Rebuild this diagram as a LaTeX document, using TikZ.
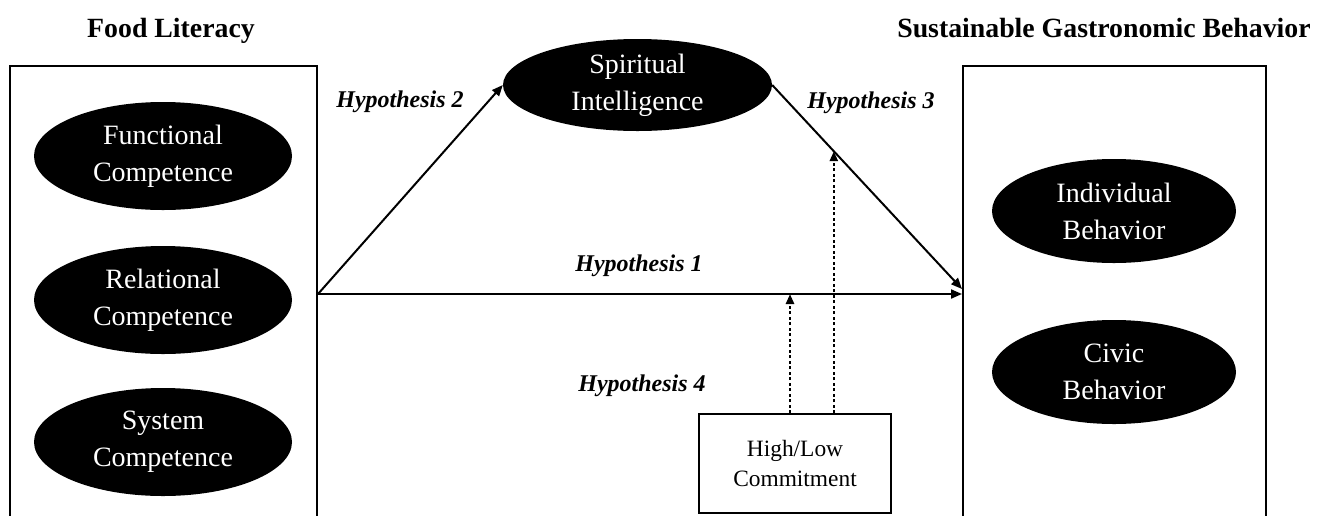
\documentclass[tikz,border=0pt]{standalone}
\usepackage{fontspec}
\setmainfont{Liberation Serif}
\usetikzlibrary{shapes.geometric,arrows.meta,calc}
\tikzset{
  frame/.style={draw,line width=2pt,minimum width=#1,minimum height=456pt,inner sep=0pt},
  blob/.style={ellipse,fill=black,text=white,inner sep=0pt,align=center,
    font=\fontsize{28}{37}\selectfont},
  title/.style={anchor=base,font=\fontsize{27.8}{33}\selectfont\bfseries},
  hyp/.style={font=\fontsize{24}{28}\selectfont\bfseries\itshape},
  link/.style={line width=2pt,-{Triangle[length=11pt,width=9pt]}},
  modlink/.style={line width=2.5pt,dash pattern=on 3pt off 2.5pt,-{Triangle[length=10pt,width=8pt]}},
  modbox/.style={draw,line width=2pt,minimum width=192pt,minimum height=99pt,inner sep=0pt,
    align=center,font=\fontsize{23.4}{30}\selectfont}
}
\begin{document}
\begin{tikzpicture}[x=1pt,y=-1pt]
\useasboundingbox (0,0) rectangle (1325,515);
\clip (0,0) rectangle (1325,515);
\fill[white] (0,0) rectangle (1325,515);
% titles
\node[title] (t1) at (171,37) {Food Literacy};
\node[title] (t2) at (1104,37) {Sustainable Gastronomic Behavior};
% frames
\node[frame=307pt] (lbox) at (163.5,294) {};
\node[frame=303pt] (rbox) at (1114.5,294) {};
% left ellipses
\node[blob,minimum width=258pt,minimum height=108pt] (fc) at (163,156) {Functional\\Competence};
\node[blob,minimum width=258pt,minimum height=108pt] (rc) at (163,300) {Relational\\Competence};
\node[blob,minimum width=258pt,minimum height=108pt] (sc) at (163,442) {System\\Competence};
% right ellipses
\node[blob,minimum width=244pt,minimum height=104pt] (ib) at (1114,211) {Individual\\Behavior};
\node[blob,minimum width=244pt,minimum height=104pt] (cb) at (1114,372) {Civic\\Behavior};
% mediator
\node[blob,minimum width=269pt,minimum height=92pt] (si) at (637.5,85) {Spiritual\\Intelligence};
% moderator
\node[modbox] (hl) at (795,463.5) {High/Low\\Commitment};
% connectors
\coordinate (h3end) at ($(rbox.west)+(0,-5)$);
\draw[link] (lbox.east) -- (rbox.west);
\draw[link] (lbox.east) -- (si.west);
\draw[link] (si.east) -- (h3end);
\coordinate (m1) at (790,294);
\coordinate (m3) at ($(si.east)!0.3246!(h3end)$);
\draw[modlink] (hl.north -| m1) -- (m1);
\draw[modlink] (hl.north -| m3) -- (m3);
% labels
\node[hyp] (l2) at (400,102) {Hypothesis 2};
\node[hyp] (l3) at (871,103) {Hypothesis 3};
\node[hyp] (l1) at (639,266) {Hypothesis 1};
\node[hyp] (l4) at (642,386) {Hypothesis 4};
\end{tikzpicture}
\end{document}
